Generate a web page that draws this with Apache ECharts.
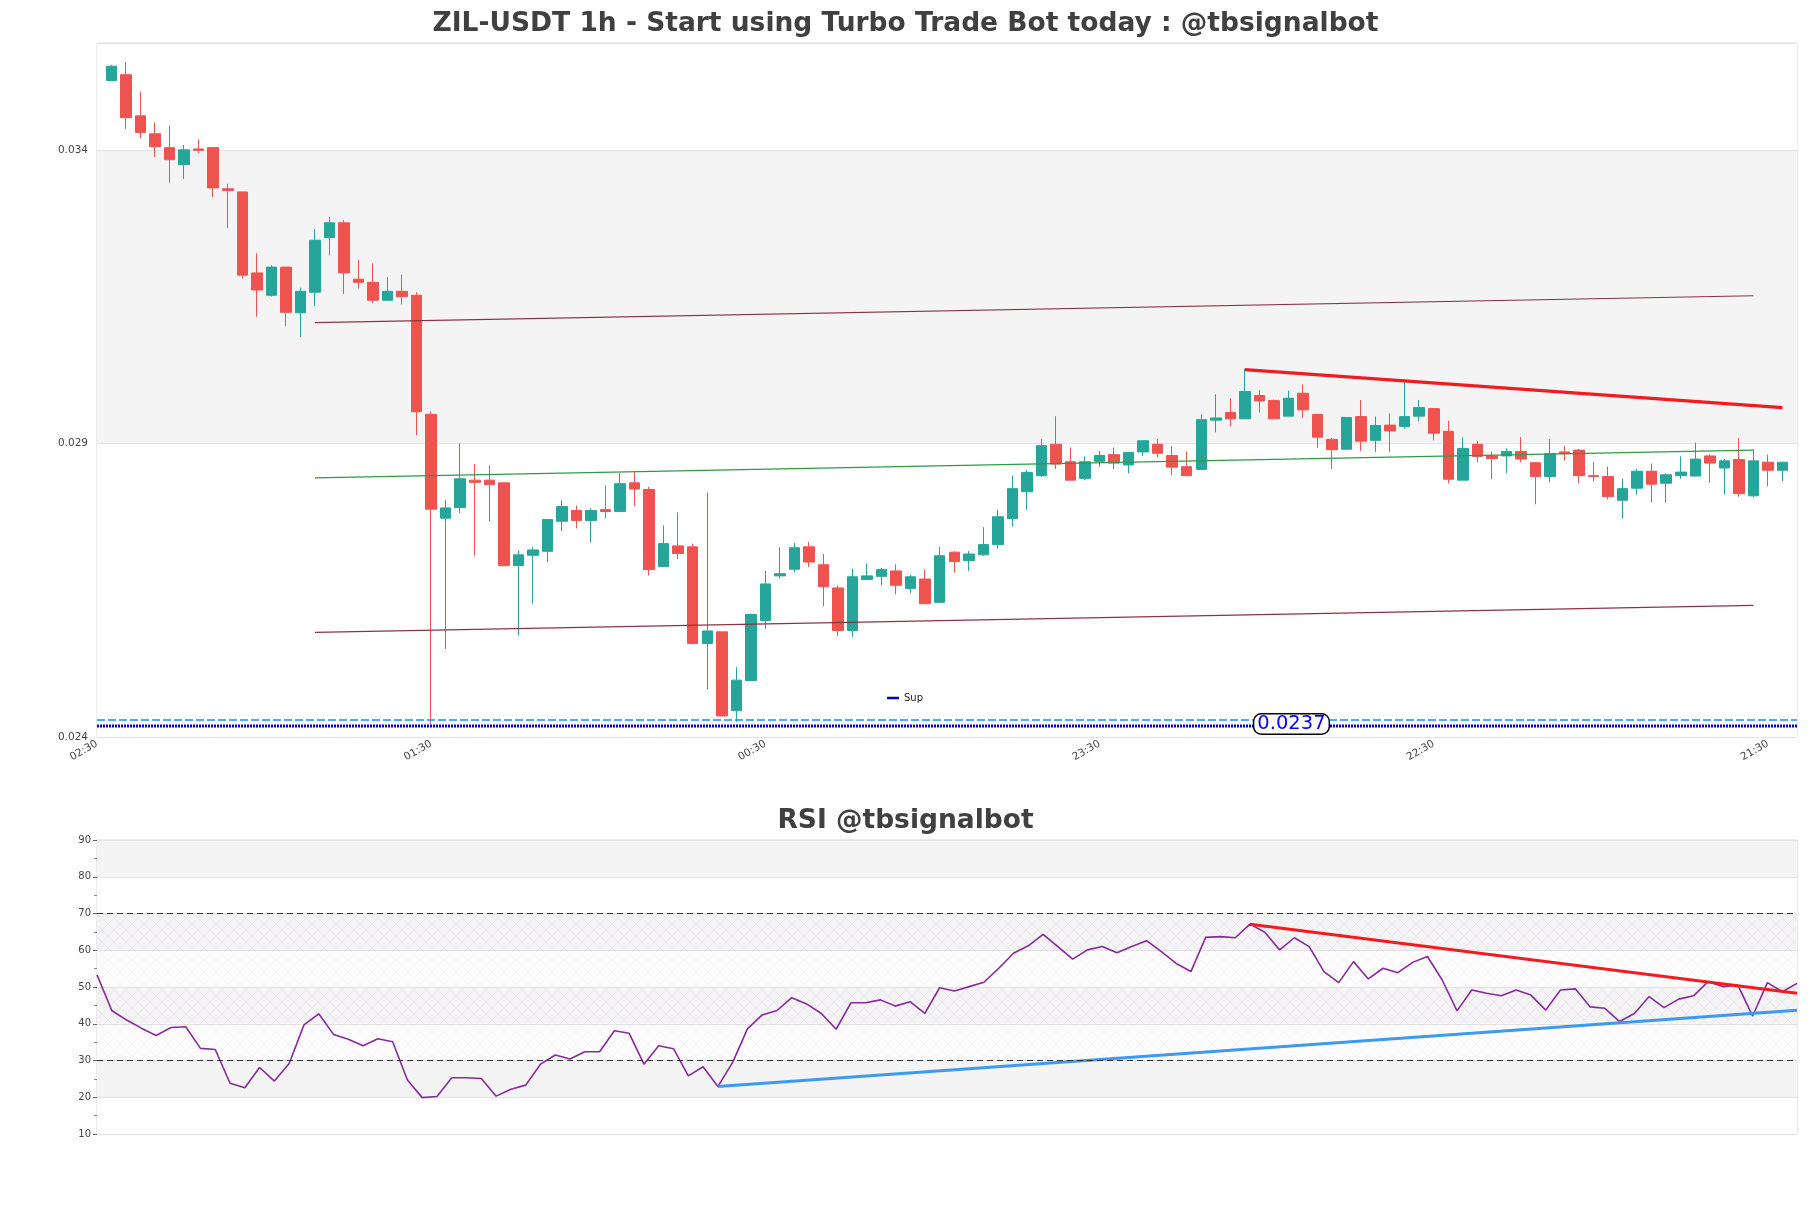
<!DOCTYPE html>
<html><head><meta charset="utf-8">
<script src="https://cdn.jsdelivr.net/npm/echarts@6/dist/echarts.min.js"></script>
<style>html,body{margin:0;padding:0;background:#fff}#c{width:1811px;height:1208px}</style>
</head><body><div id="c"></div>
<script>
const tickLabels = ['02:30','01:30','00:30','23:30','22:30','21:30'];

const openP = [
0.035181,0.035280,0.034579,0.034274,0.034038,0.033748,0.034015,0.034038,0.033337,0.033284,
0.031904,0.031523,0.032003,0.031226,0.031576,0.032506,0.032758,0.031797,0.031744,0.031439,
0.031591,0.031523,0.029495,0.027727,0.027910,0.028375,0.028375,0.028329,0.026919,0.027095,
0.027163,0.027674,0.027857,0.027689,0.027872,0.027841,0.028329,0.028215,0.026904,0.027255,
0.027239,0.025593,0.025791,0.024450,0.024960,0.025982,0.026744,0.026858,0.027239,0.026934,
0.026538,0.025814,0.026683,0.026736,0.026828,0.026531,0.026690,0.026294,0.027148,0.027003,
0.027102,0.027277,0.027719,0.028177,0.028451,0.028985,0.028687,0.028405,0.028695,0.028809,
0.028634,0.028855,0.028985,0.028794,0.028604,0.028558,0.029396,0.029526,0.029419,0.029816,
0.029732,0.029465,0.029854,0.029495,0.029069,0.028901,0.029457,0.029053,0.029312,0.029290,
0.029465,0.029594,0.029206,0.028375,0.028985,0.028787,0.028787,0.028863,0.028672,0.028436,
0.028855,0.028886,0.028451,0.028436,0.028032,0.028238,0.028527,0.028322,0.028451,0.028444,
0.028787,0.028581,0.028726,0.028108,0.028680,0.028543];
const closeP = [
0.035425,0.034549,0.034297,0.034053,0.033832,0.034000,0.033992,0.033352,0.033306,0.031866,
0.031614,0.032003,0.031233,0.031591,0.032460,0.032758,0.031904,0.031744,0.031439,0.031591,
0.031500,0.029541,0.027880,0.027902,0.028398,0.028337,0.028299,0.026919,0.027102,0.027186,
0.027704,0.027925,0.027689,0.027857,0.027841,0.028314,0.028223,0.026851,0.027293,0.027125,
0.025593,0.025806,0.024358,0.024968,0.026088,0.026607,0.026782,0.027224,0.026980,0.026561,
0.025814,0.026729,0.026744,0.026851,0.026584,0.026729,0.026271,0.027087,0.026988,0.027117,
0.027277,0.027750,0.028230,0.028504,0.028962,0.028649,0.028375,0.028687,0.028794,0.028665,
0.028848,0.029046,0.028832,0.028596,0.028451,0.029404,0.029434,0.029419,0.029884,0.029724,
0.029419,0.029770,0.029572,0.029107,0.028893,0.029442,0.029038,0.029305,0.029213,0.029457,
0.029610,0.029175,0.028390,0.028916,0.028779,0.028741,0.028863,0.028733,0.028436,0.028825,
0.028825,0.028451,0.028436,0.028093,0.028230,0.028527,0.028306,0.028466,0.028512,0.028733,
0.028665,0.028703,0.028146,0.028703,0.028543,0.028680];
const lowP = [
0.035181,0.034358,0.034198,0.033878,0.033444,0.033505,0.033939,0.033200,0.032666,0.031805,
0.031157,0.031500,0.030997,0.030814,0.031340,0.032201,0.031546,0.031637,0.031386,0.031439,
0.031370,0.029137,0.024221,0.025501,0.027811,0.027087,0.027674,0.026904,0.025730,0.026271,
0.026972,0.027506,0.027552,0.027316,0.027727,0.027841,0.027933,0.026752,0.026904,0.027034,
0.025578,0.024808,0.024358,0.024259,0.024950,0.025837,0.026698,0.026805,0.026896,0.026226,
0.025723,0.025707,0.026683,0.026584,0.026431,0.026454,0.026271,0.026294,0.026797,0.026828,
0.027087,0.027209,0.027582,0.027872,0.028428,0.028565,0.028375,0.028375,0.028604,0.028565,
0.028489,0.028787,0.028764,0.028459,0.028451,0.028543,0.029191,0.029290,0.029419,0.029526,
0.029419,0.029465,0.029434,0.028924,0.028565,0.028901,0.028870,0.028855,0.028855,0.029251,
0.029373,0.029053,0.028322,0.028375,0.028680,0.028390,0.028489,0.028680,0.027963,0.028337,
0.028710,0.028322,0.028352,0.028047,0.027719,0.028131,0.027994,0.027994,0.028398,0.028444,
0.028329,0.028131,0.028093,0.028085,0.028268,0.028360];
const highP = [
0.035448,0.035494,0.034991,0.034465,0.034412,0.034084,0.034175,0.034038,0.033421,0.033284,
0.032239,0.032034,0.032003,0.031652,0.032651,0.032857,0.032803,0.032125,0.032064,0.031835,
0.031873,0.031576,0.029549,0.028040,0.029000,0.028649,0.028627,0.028329,0.027178,0.027232,
0.027704,0.028032,0.027941,0.027895,0.028284,0.028497,0.028512,0.028261,0.027605,0.027826,
0.027293,0.028162,0.025791,0.025189,0.026100,0.026828,0.027232,0.027308,0.027323,0.027117,
0.026576,0.026866,0.026957,0.026881,0.026942,0.026759,0.026851,0.027239,0.027163,0.027171,
0.027575,0.027872,0.028451,0.028550,0.029069,0.029465,0.028931,0.028779,0.028870,0.028931,
0.028848,0.029046,0.029076,0.028954,0.028863,0.029495,0.029838,0.029770,0.030273,0.029907,
0.029747,0.029900,0.030006,0.029495,0.029091,0.029442,0.029739,0.029457,0.029511,0.030067,
0.029739,0.029594,0.029389,0.029107,0.029046,0.028863,0.028916,0.029107,0.028672,0.029076,
0.028962,0.028901,0.028680,0.028604,0.028398,0.028565,0.028657,0.028489,0.028779,0.029015,
0.028817,0.028733,0.029091,0.028901,0.028809,0.028680];

const rsiValues = [
53.3,43.6,41.0,38.8,36.8,39.0,39.2,33.3,33.0,23.8,
22.6,28.1,24.4,29.2,39.7,42.7,37.1,35.8,34.0,35.9,
35.1,24.7,19.9,20.2,25.3,25.3,25.1,20.3,22.2,23.3,
29.0,31.5,30.4,32.4,32.4,38.1,37.4,29.0,34.0,33.2,
25.8,28.3,22.9,29.5,38.6,42.4,43.6,47.1,45.4,42.8,
38.5,45.7,45.7,46.5,44.8,46.0,42.8,49.8,48.9,50.1,
51.3,55.1,59.2,61.2,64.3,61.0,57.6,60.1,61.0,59.3,
61.0,62.6,59.6,56.4,54.2,63.5,63.7,63.4,67.1,64.9,
60.1,63.4,61.0,54.2,51.2,56.9,52.2,55.1,53.9,56.7,
58.3,51.9,43.5,49.2,48.3,47.6,49.2,47.8,43.7,49.2,
49.5,44.6,44.2,40.6,42.8,47.4,44.4,46.7,47.6,51.5,
50.1,50.5,42.1,51.2,48.7,51.0];

// trend lines on the price chart: [candle index, price] pairs (axis slot = candle index + 1)
const upperChannel = [[14, 0.031058], [113, 0.031515]];
const midChannel   = [[14, 0.028413], [113, 0.028886]];
const lowerChannel = [[14, 0.025783], [113, 0.026241]];
const resistLine   = [[78, 0.030258], [115, 0.029610]];
const supLevel = 0.024187;
const supZoneLevel = 0.024290;
const supLabelText = '0.0237';
const supLabelCandle = 81;

// RSI trend lines: [point index, rsi]
const rsiResist = [[78, 67.1], [115, 48.3]];
const rsiSupport = [[42, 22.9], [115, 43.7]];
const rsiLevels = [70, 30];

const N = openP.length;
const slots = N + 2;
const cats = [];
for (let j = 0; j < slots; j++) cats.push(j % 23 === 0 ? (tickLabels[j / 23] || '') : '');
const candles = openP.map((o, i) => [i + 1, o, closeP[i], lowP[i], highP[i]]);
const shift = pts => pts.map(p => [p[0] + 1, p[1]]);
const rsiCats = rsiValues.map(() => '');

const pc = document.createElement('canvas');
pc.width = 12; pc.height = 12;
const g = pc.getContext('2d');
g.strokeStyle = 'rgba(175,130,205,0.2)';
g.lineWidth = 0.6;
g.beginPath(); g.moveTo(0, 0); g.lineTo(12, 12); g.moveTo(12, 0); g.lineTo(0, 12); g.stroke();

const FONT = 'DejaVu Sans';
const chart = echarts.init(document.getElementById('c'), null, {renderer: 'canvas'});
chart.setOption({
  animation: false,
  backgroundColor: '#ffffff',
  textStyle: {fontFamily: FONT},
  title: [
    {text: 'ZIL-USDT 1h - Start using Turbo Trade Bot today : @tbsignalbot', left: 'center', top: 6,
     textStyle: {fontFamily: FONT, fontWeight: 'bold', fontSize: 26.5, color: '#404040'}},
    {text: 'RSI @tbsignalbot', left: 'center', top: 803,
     textStyle: {fontFamily: FONT, fontWeight: 'bold', fontSize: 26.5, color: '#404040'}}
  ],
  legend: {data: ['Sup'], left: 882, top: 688, icon: 'rect', itemWidth: 12, itemHeight: 2.5,
    textStyle: {fontFamily: FONT, fontSize: 10, color: '#222'}},
  grid: [
    {left: 97, right: 14, top: 43, height: 694, show: true, borderColor: '#d9d9d9', borderWidth: 1, backgroundColor: 'transparent'},
    {left: 97, right: 14, top: 840, height: 294, show: true, borderColor: '#d9d9d9', borderWidth: 1, backgroundColor: 'transparent'}
  ],
  xAxis: [
    {type: 'category', gridIndex: 0, data: cats, boundaryGap: false,
     axisLine: {show: false}, axisTick: {show: false}, splitLine: {show: false},
     axisLabel: {interval: 22, rotate: 30, fontSize: 10.5, color: '#444', margin: 6, fontFamily: FONT}},
    {type: 'category', gridIndex: 1, data: rsiCats, boundaryGap: false,
     axisLine: {show: false}, axisTick: {show: false}, axisLabel: {show: false}, splitLine: {show: false}}
  ],
  yAxis: [
    {type: 'value', gridIndex: 0, min: 0.024, max: 0.03582, interval: 0.005, scale: true,
     axisLine: {show: false}, axisTick: {show: false},
     axisLabel: {showMaxLabel: false, fontSize: 10.5, color: '#444', margin: 9, fontFamily: FONT,
       formatter: v => v.toFixed(3)},
     splitLine: {show: true, lineStyle: {color: '#e3e3e3', width: 1}},
     splitArea: {show: true, areaStyle: {color: ['#ffffff', '#f4f4f4']}}},
    {type: 'value', gridIndex: 1, min: 10, max: 90, interval: 10,
     axisLine: {show: false},
     axisTick: {show: true, length: 4, lineStyle: {color: '#666'}},
     minorTick: {show: true, splitNumber: 2, length: 3, lineStyle: {color: '#888'}},
     axisLabel: {fontSize: 10, color: '#444', margin: 6, fontFamily: FONT},
     splitLine: {show: true, lineStyle: {color: '#e3e3e3', width: 1}},
     splitArea: {show: true, areaStyle: {color: ['#ffffff', '#f4f4f4']}}}
  ],
  series: [
    {type: 'candlestick', name: 'price', xAxisIndex: 0, yAxisIndex: 0, data: candles,
     encode: {x: 0, y: [1, 2, 3, 4]}, barWidth: 11,
     itemStyle: {color: '#26a69a', color0: '#ef5350', borderColor: '#26a69a', borderColor0: '#ef5350', borderWidth: 1}},
    {type: 'line', name: 'upper', data: shift(upperChannel), symbol: 'none', silent: true,
     lineStyle: {color: '#8a3345', width: 1.2}},
    {type: 'line', name: 'mid', data: shift(midChannel), symbol: 'none', silent: true,
     lineStyle: {color: '#2e9a48', width: 1.2}},
    {type: 'line', name: 'lower', data: shift(lowerChannel), symbol: 'none', silent: true,
     lineStyle: {color: '#8a3345', width: 1.2}},
    {type: 'line', name: 'resist', data: shift(resistLine), symbol: 'none', silent: true,
     lineStyle: {color: '#f51a1f', width: 3.2}},
    {type: 'line', name: 'supzone', data: [[0, supZoneLevel], [slots - 1, supZoneLevel]], symbol: 'none', silent: true,
     lineStyle: {color: '#1e8fe6', width: 1.5, type: [8, 3]}},
    {type: 'line', name: 'Sup', data: [[0, supLevel], [slots - 1, supLevel]], symbol: 'none', silent: true,
     color: '#0000cc',
     lineStyle: {color: '#0000cc', width: 3, type: [2, 1]},
     markPoint: {symbol: 'circle', symbolSize: 0, silent: true,
       data: [{coord: [supLabelCandle + 1, supLevel]}],
       label: {show: true, position: 'inside', formatter: supLabelText, fontFamily: FONT, fontSize: 19.5,
         color: '#0000ff', backgroundColor: '#ffffff', borderColor: '#000', borderWidth: 1.5,
         borderRadius: 7, padding: [0, 3, -1, 3], offset: [3, -2]}}},
    {type: 'line', name: 'RSI', xAxisIndex: 1, yAxisIndex: 1, data: rsiValues, symbol: 'none',
     lineStyle: {color: '#882a9b', width: 1.6},
     markLine: {silent: true, symbol: 'none', label: {show: false},
       lineStyle: {color: '#333', width: 1.2, type: [6, 4]},
       data: rsiLevels.map(v => ({yAxis: v}))},
     markArea: {silent: true, itemStyle: {color: {image: pc, repeat: 'repeat'}},
       data: [[{yAxis: rsiLevels[1]}, {yAxis: rsiLevels[0]}]]}},
    {type: 'line', name: 'rsiResist', xAxisIndex: 1, yAxisIndex: 1, data: rsiResist, symbol: 'none', silent: true,
     lineStyle: {color: '#f51a1f', width: 3}},
    {type: 'line', name: 'rsiSupport', xAxisIndex: 1, yAxisIndex: 1, data: rsiSupport, symbol: 'none', silent: true,
     lineStyle: {color: '#3d9af0', width: 3}}
  ]
});
</script></body></html>
